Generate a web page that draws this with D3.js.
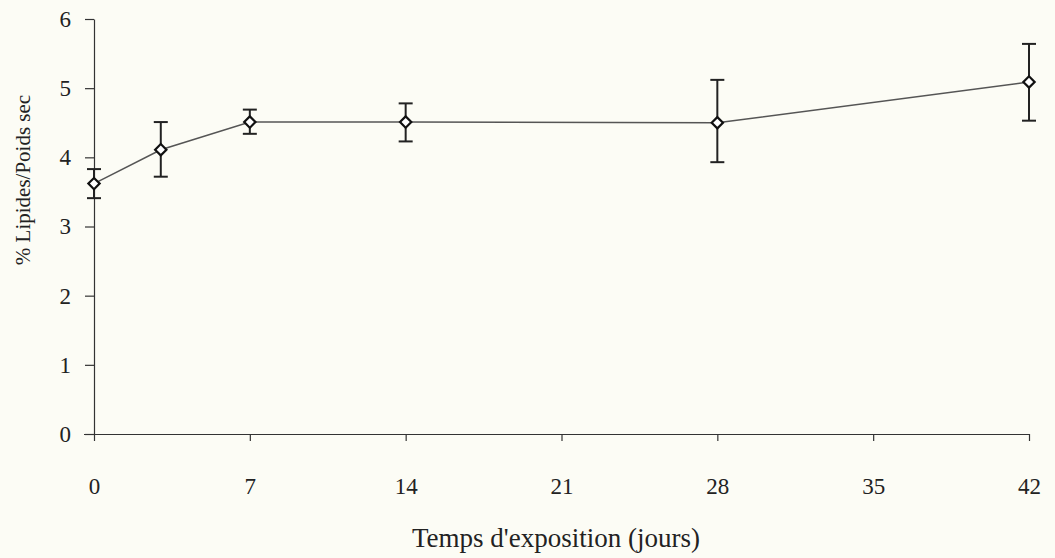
<!DOCTYPE html>
<html><head><meta charset="utf-8">
<script src="https://cdn.jsdelivr.net/npm/d3@7"></script>
<style>body{margin:0;background:#fcfcf5;}svg{display:block;}</style>
</head><body>
<svg id="c" width="1055" height="558"></svg>
<script>
const days = [0, 3, 7, 14, 28, 42];
const lipids = [3.62, 4.11, 4.51, 4.51, 4.50, 5.09];
const errLow = [3.41, 3.72, 4.34, 4.23, 3.93, 4.53];
const errHigh = [3.83, 4.51, 4.69, 4.78, 5.12, 5.64];
const xTicks = [0, 7, 14, 21, 28, 35, 42];
const yTicks = [0, 1, 2, 3, 4, 5, 6];

const svg = d3.select("#c");
svg.append("rect").attr("width",1055).attr("height",558).attr("fill","#fcfcf5");
const x = d3.scaleLinear().domain([0,42]).range([94,1029]);
const y = d3.scaleLinear().domain([0,6]).range([434,19]);
const font = "'Liberation Serif','Times New Roman',serif";

const xa = svg.append("g").attr("transform",`translate(0,${y(0)})`)
  .call(d3.axisBottom(x).tickValues(xTicks).tickFormat(d3.format("d")).tickSize(7).tickPadding(37).tickSizeOuter(0));
xa.select(".domain").attr("d",`M84,0.5H${x(42)}`);
const ya = svg.append("g").attr("transform",`translate(${x(0)},0)`)
  .call(d3.axisLeft(y).tickValues(yTicks).tickFormat(d3.format("d")).tickSize(9).tickPadding(14).tickSizeOuter(0));
[xa,ya].forEach(a=>{
  a.selectAll("path,line").attr("stroke","#333").attr("stroke-width",1.2);
  a.selectAll("text").attr("font-family",font).attr("font-size",23).attr("fill","#222");
});

const line = d3.line().x((d,i)=>x(days[i])).y(d=>y(d));
svg.append("path").datum(lipids).attr("d",line).attr("fill","none")
  .attr("stroke","#555").attr("stroke-width",1.5);

const eb = svg.append("g").attr("stroke","#222").attr("stroke-width",2);
days.forEach((d,i)=>{
  eb.append("line").attr("x1",x(d)).attr("x2",x(d)).attr("y1",y(errLow[i])).attr("y2",y(errHigh[i]));
  eb.append("line").attr("x1",x(d)-7).attr("x2",x(d)+7).attr("y1",y(errLow[i])).attr("y2",y(errLow[i]));
  eb.append("line").attr("x1",x(d)-7).attr("x2",x(d)+7).attr("y1",y(errHigh[i])).attr("y2",y(errHigh[i]));
});
svg.append("g").selectAll("path").data(lipids).join("path")
  .attr("d",d3.symbol(d3.symbolSquare, 64))
  .attr("transform",(d,i)=>`translate(${x(days[i])},${y(d)}) rotate(45)`)
  .attr("fill","#fff").attr("stroke","#111").attr("stroke-width",2.2);

svg.append("text").attr("x",556).attr("y",547).attr("text-anchor","middle")
  .attr("font-family",font).attr("font-size",27).attr("fill","#222").text("Temps d'exposition (jours)");
svg.append("text").attr("transform","translate(30,180) rotate(-90)").attr("text-anchor","middle")
  .attr("font-family",font).attr("font-size",21).attr("fill","#222").text("% Lipides/Poids sec");
</script>
</body></html>
